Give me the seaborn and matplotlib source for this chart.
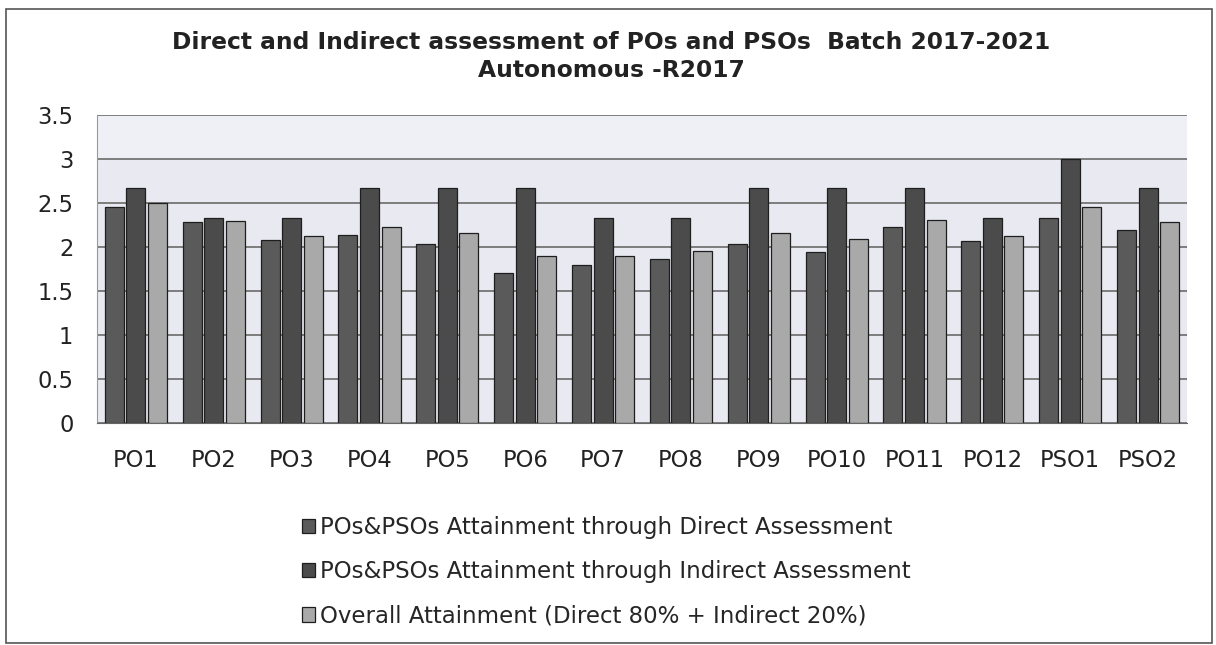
import pandas as pd
import seaborn as sns
import matplotlib.pyplot as plt
from matplotlib.patches import Rectangle

outcomes = ['PO1', 'PO2', 'PO3', 'PO4', 'PO5', 'PO6', 'PO7', 'PO8', 'PO9',
            'PO10', 'PO11', 'PO12', 'PSO1', 'PSO2']
direct = [2.45, 2.28, 2.08, 2.14, 2.03, 1.71, 1.79, 1.86, 2.03, 1.94, 2.23, 2.07, 2.33, 2.19]
indirect = [2.67, 2.33, 2.33, 2.67, 2.67, 2.67, 2.33, 2.33, 2.67, 2.67, 2.67, 2.33, 3.0, 2.67]
overall = [2.50, 2.29, 2.13, 2.23, 2.16, 1.90, 1.90, 1.96, 2.16, 2.09, 2.31, 2.13, 2.46, 2.28]
series_names = ['POs&PSOs Attainment through Direct Assessment',
                'POs&PSOs Attainment through Indirect Assessment',
                'Overall Attainment (Direct 80% + Indirect 20%)']
yticks = [0, 0.5, 1, 1.5, 2, 2.5, 3, 3.5]
ytick_labels = ['0', '0.5', '1', '1.5', '2', '2.5', '3', '3.5']

df = pd.DataFrame({
    'Outcome': outcomes * 3,
    'Value': direct + indirect + overall,
    'Series': [series_names[0]] * 14 + [series_names[1]] * 14 + [series_names[2]] * 14,
})

sns.set_style('white')
plt.rcParams['font.family'] = ['DejaVu Sans']
W, H = 1216, 645
fig = plt.figure(figsize=(W / 100, H / 100), dpi=100)
ax = fig.add_axes([97 / W, 1 - 423 / H, (1187 - 97) / W, (423 - 115) / H])

palette = ['#5a5a5a', '#4b4b4b', '#a9a9a9']
sns.barplot(data=df, x='Outcome', y='Value', hue='Series', order=outcomes,
            hue_order=series_names, palette=palette, width=0.83, gap=0.12,
            edgecolor='#1e1e1e', linewidth=0.9, saturation=1, ax=ax, legend=True)

# plot area: lavender fill, lighter band at the top
ax.set_facecolor('#e9e9f1')
ax.axhspan(3, 3.5, color='#efeff6', zorder=0)
ax.set_ylim(0, 3.5)
ax.set_xlim(-0.5, 13.5)
ax.set_yticks(yticks)
ax.set_yticklabels(ytick_labels)
ax.yaxis.grid(True, color='#6a6a6a', linewidth=1.2)
ax.set_axisbelow(True)
ax.tick_params(axis='both', labelsize=16.3, length=0, colors='#222222')
ax.tick_params(axis='x', pad=19)
ax.tick_params(axis='y', pad=17)
ax.set_xlabel('')
ax.set_ylabel('')
for side in ['top', 'right']:
    ax.spines[side].set_visible(False)
ax.spines['left'].set_color('#999999')
ax.spines['bottom'].set_color('#666666')

handles, labels = ax.get_legend_handles_labels()
ax.legend(handles, labels, loc='upper left', bbox_to_anchor=(302 / W, 1 - 516 / H),
          bbox_transform=fig.transFigure, frameon=False, fontsize=16.5,
          handlelength=0.57, handleheight=0.57, handletextpad=0.2, labelspacing=0.93,
          borderpad=0, borderaxespad=0)

fig.text(0.5025, 1 - 31 / H, 'Direct and Indirect assessment of POs and PSOs  Batch 2017-2021\nAutonomous -R2017',
         ha='center', va='top', fontsize=16.8, fontweight='bold', linespacing=1.3, color='#222222')

# outer chart border
fig.patches.append(Rectangle((6 / W, 2 / H), 1206 / W, (H - 9) / H - 2 / H,
                             transform=fig.transFigure, fill=False, edgecolor='#555555',
                             linewidth=1.2))

fig.savefig('out.png', dpi=100)
